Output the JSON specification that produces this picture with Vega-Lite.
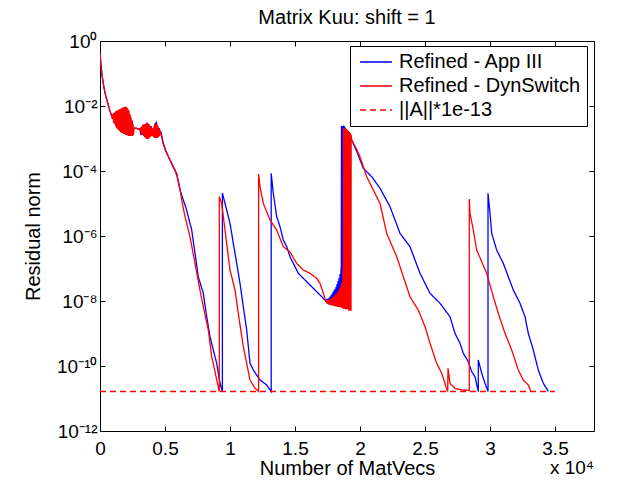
{
"$schema": "https://vega.github.io/schema/vega-lite/v6.json",
"width": 494, "height": 390,
"autosize": {"type": "none"},
"padding": {"left": 100, "top": 41, "right": 49, "bottom": 50},
"background": "white",
"config": {
  "font": "Liberation Sans",
  "view": {"stroke": "black", "strokeWidth": 1},
  "axis": {"grid": false, "domain": false, "tickColor": "black", "labelColor": "black", "titleColor": "black", "labelFont": "Liberation Sans", "titleFont": "Liberation Sans", "labelFontSize": 19, "titleFontSize": 20, "titleFontWeight": "normal", "tickSize": -5, "labelFlush": false, "labelOverlap": false}
},
"title": {"text": "Matrix Kuu: shift = 1", "fontSize": 20, "fontWeight": "normal", "font": "Liberation Sans", "color": "black", "offset": 4},
"datasets": {
"blue": [
{"s":"Refined - App III","x":0,"y":0.42},{"s":"Refined - App III","x":77,"y":0.182},{"s":"Refined - App III","x":154,"y":0.09},{"s":"Refined - App III","x":308,"y":0.0358},{"s":"Refined - App III","x":462,"y":0.0189},{"s":"Refined - App III","x":615,"y":0.0115},{"s":"Refined - App III","x":769,"y":0.00702},{"s":"Refined - App III","x":923,"y":0.00459},
{"s":"Refined - App III","x":1000,"y":0.00528},{"s":"Refined - App III","x":1077,"y":0.003},{"s":"Refined - App III","x":1231,"y":0.00654},{"s":"Refined - App III","x":1385,"y":0.00196},{"s":"Refined - App III","x":1538,"y":0.0078},{"s":"Refined - App III","x":1692,"y":0.00158},{"s":"Refined - App III","x":1846,"y":0.00868},{"s":"Refined - App III","x":2000,"y":0.00137},{"s":"Refined - App III","x":2154,"y":0.00753},{"s":"Refined - App III","x":2308,"y":0.00128},{"s":"Refined - App III","x":2462,"y":0.00345},{"s":"Refined - App III","x":2538,"y":0.00183},{"s":"Refined - App III","x":2615,"y":0.0021},{"s":"Refined - App III","x":2769,"y":0.0021},{"s":"Refined - App III","x":2923,"y":0.00196},
{"s":"Refined - App III","x":3077,"y":0.00196},{"s":"Refined - App III","x":3154,"y":0.00128},{"s":"Refined - App III","x":3308,"y":0.00269},{"s":"Refined - App III","x":3462,"y":0.00111},{"s":"Refined - App III","x":3615,"y":0.00311},{"s":"Refined - App III","x":3769,"y":0.00111},{"s":"Refined - App III","x":3923,"y":0.00242},{"s":"Refined - App III","x":4077,"y":0.00119},{"s":"Refined - App III","x":4231,"y":0.00279},{"s":"Refined - App III","x":4346,"y":0.00311},{"s":"Refined - App III","x":4423,"y":0.00128},{"s":"Refined - App III","x":4538,"y":0.0021},{"s":"Refined - App III","x":4615,"y":0.00158},
{"s":"Refined - App III","x":4692,"y":0.00158},{"s":"Refined - App III","x":4869,"y":0.000712},{"s":"Refined - App III","x":5077,"y":0.000412},{"s":"Refined - App III","x":5385,"y":0.000218},{"s":"Refined - App III","x":5615,"y":0.000143},{"s":"Refined - App III","x":5769,"y":0.000107},{"s":"Refined - App III","x":5923,"y":7.02e-5},{"s":"Refined - App III","x":6154,"y":2.6e-5},{"s":"Refined - App III","x":6408,"y":1.28e-5},{"s":"Refined - App III","x":6615,"y":7.27e-6},{"s":"Refined - App III","x":6792,"y":3.93e-6},{"s":"Refined - App III","x":7054,"y":1.53e-6},{"s":"Refined - App III","x":7308,"y":2.94e-7},{"s":"Refined - App III","x":7561,"y":5.6e-8},{"s":"Refined - App III","x":7946,"y":1.73e-8},{"s":"Refined - App III","x":8208,"y":3.29e-9},{"s":"Refined - App III","x":8461,"y":7.98e-10},{"s":"Refined - App III","x":8715,"y":3.11e-10},{"s":"Refined - App III","x":8977,"y":1.21e-10},{"s":"Refined - App III","x":9231,"y":2.94e-11},{"s":"Refined - App III","x":9415,"y":1.64e-11},{"s":"Refined - App III","x":9415,"y":2.1e-5},
{"s":"Refined - App III","x":9485,"y":1.62e-5},{"s":"Refined - App III","x":9746,"y":6.31e-6},{"s":"Refined - App III","x":10000,"y":2.46e-6},{"s":"Refined - App III","x":10254,"y":5.96e-7},{"s":"Refined - App III","x":10515,"y":1.44e-7},{"s":"Refined - App III","x":10769,"y":3.51e-8},{"s":"Refined - App III","x":11023,"y":6.68e-9},{"s":"Refined - App III","x":11284,"y":1.28e-9},{"s":"Refined - App III","x":11538,"y":1.21e-10},{"s":"Refined - App III","x":11792,"y":7.53e-11},{"s":"Refined - App III","x":12308,"y":3.71e-11},{"s":"Refined - App III","x":12823,"y":2.6e-11},{"s":"Refined - App III","x":13169,"y":1.64e-11},{"s":"Refined - App III","x":13169,"y":8.49e-5},
{"s":"Refined - App III","x":13331,"y":2.06e-5},{"s":"Refined - App III","x":13592,"y":3.93e-6},{"s":"Refined - App III","x":13846,"y":1.93e-6},{"s":"Refined - App III","x":14100,"y":7.53e-7},{"s":"Refined - App III","x":14362,"y":4.69e-7},{"s":"Refined - App III","x":14615,"y":2.31e-7},{"s":"Refined - App III","x":14869,"y":1.44e-7},{"s":"Refined - App III","x":15254,"y":7.12e-8},{"s":"Refined - App III","x":15900,"y":3.93e-8},{"s":"Refined - App III","x":16408,"y":2.46e-8},{"s":"Refined - App III","x":16923,"y":1.53e-8},{"s":"Refined - App III","x":17308,"y":1.07e-8},
{"s":"Refined - App III","x":17385,"y":1.11e-8},{"s":"Refined - App III","x":17423,"y":9.31e-9},{"s":"Refined - App III","x":17461,"y":1.15e-8},{"s":"Refined - App III","x":17500,"y":8.99e-9},{"s":"Refined - App III","x":17538,"y":1.19e-8},{"s":"Refined - App III","x":17577,"y":8.68e-9},{"s":"Refined - App III","x":17615,"y":1.24e-8},{"s":"Refined - App III","x":17654,"y":8.68e-9},{"s":"Refined - App III","x":17692,"y":1.36e-8},{"s":"Refined - App III","x":17731,"y":8.68e-9},{"s":"Refined - App III","x":17769,"y":1.48e-8},{"s":"Refined - App III","x":17808,"y":8.68e-9},{"s":"Refined - App III","x":17846,"y":1.64e-8},{"s":"Refined - App III","x":17885,"y":8.68e-9},{"s":"Refined - App III","x":17923,"y":1.89e-8},{"s":"Refined - App III","x":17962,"y":8.68e-9},{"s":"Refined - App III","x":18000,"y":2.1e-8},{"s":"Refined - App III","x":18038,"y":8.68e-9},{"s":"Refined - App III","x":18077,"y":2.34e-8},{"s":"Refined - App III","x":18115,"y":8.68e-9},{"s":"Refined - App III","x":18154,"y":2.7e-8},{"s":"Refined - App III","x":18192,"y":8.68e-9},{"s":"Refined - App III","x":18231,"y":3.33e-8},{"s":"Refined - App III","x":18269,"y":8.68e-9},{"s":"Refined - App III","x":18308,"y":4.12e-8},{"s":"Refined - App III","x":18346,"y":8.68e-9},{"s":"Refined - App III","x":18385,"y":5.1e-8},{"s":"Refined - App III","x":18423,"y":8.68e-9},{"s":"Refined - App III","x":18462,"y":6.77e-8},{"s":"Refined - App III","x":18500,"y":8.68e-9},{"s":"Refined - App III","x":18538,"y":1.04e-7},{"s":"Refined - App III","x":18558,"y":8.68e-9},{"s":"Refined - App III","x":18577,"y":0.00243},{"s":"Refined - App III","x":18615,"y":8.68e-9},{"s":"Refined - App III","x":18654,"y":0.00243},{"s":"Refined - App III","x":18692,"y":8.68e-9},{"s":"Refined - App III","x":18731,"y":0.00243},{"s":"Refined - App III","x":18769,"y":8.68e-9},{"s":"Refined - App III","x":18792,"y":0.00226},
{"s":"Refined - App III","x":19362,"y":0.000899},{"s":"Refined - App III","x":19769,"y":0.000385},{"s":"Refined - App III","x":20254,"y":0.000121},{"s":"Refined - App III","x":20900,"y":6.68e-5},{"s":"Refined - App III","x":21538,"y":2.94e-5},{"s":"Refined - App III","x":22308,"y":7.98e-6},{"s":"Refined - App III","x":23077,"y":1.21e-6},{"s":"Refined - App III","x":23846,"y":4.69e-7},{"s":"Refined - App III","x":24615,"y":7.12e-8},{"s":"Refined - App III","x":25385,"y":1.73e-8},{"s":"Refined - App III","x":26154,"y":8.49e-9},{"s":"Refined - App III","x":26923,"y":3.29e-9},{"s":"Refined - App III","x":27308,"y":1.01e-9},{"s":"Refined - App III","x":27692,"y":4.99e-10},{"s":"Refined - App III","x":27946,"y":2.46e-10},{"s":"Refined - App III","x":28331,"y":1.36e-10},{"s":"Refined - App III","x":28592,"y":6.68e-11},{"s":"Refined - App III","x":28846,"y":4.69e-11},{"s":"Refined - App III","x":29100,"y":1.64e-11},{"s":"Refined - App III","x":29100,"y":1.53e-10},{"s":"Refined - App III","x":29362,"y":5.96e-11},{"s":"Refined - App III","x":29615,"y":2.94e-11},{"s":"Refined - App III","x":29846,"y":1.64e-11},{"s":"Refined - App III","x":29846,"y":2.06e-5},
{"s":"Refined - App III","x":30000,"y":4.99e-6},{"s":"Refined - App III","x":30131,"y":1.21e-6},{"s":"Refined - App III","x":30515,"y":3.71e-7},{"s":"Refined - App III","x":31023,"y":1.44e-7},{"s":"Refined - App III","x":31408,"y":5.6e-8},{"s":"Refined - App III","x":31792,"y":2.18e-8},{"s":"Refined - App III","x":32308,"y":8.49e-9},{"s":"Refined - App III","x":32692,"y":3.29e-9},{"s":"Refined - App III","x":32946,"y":1.01e-9},{"s":"Refined - App III","x":33331,"y":3.11e-10},{"s":"Refined - App III","x":33715,"y":7.53e-11},{"s":"Refined - App III","x":34100,"y":2.94e-11},{"s":"Refined - App III","x":34485,"y":1.64e-11}
],
"red": [
{"s":"Refined - DynSwitch","x":0,"y":0.42},{"s":"Refined - DynSwitch","x":77,"y":0.182},{"s":"Refined - DynSwitch","x":154,"y":0.09},{"s":"Refined - DynSwitch","x":308,"y":0.0358},{"s":"Refined - DynSwitch","x":462,"y":0.0189},{"s":"Refined - DynSwitch","x":615,"y":0.0115},{"s":"Refined - DynSwitch","x":769,"y":0.00702},{"s":"Refined - DynSwitch","x":923,"y":0.00459},
{"s":"Refined - DynSwitch","x":923,"y":0.00492},{"s":"Refined - DynSwitch","x":961,"y":0.00398},{"s":"Refined - DynSwitch","x":1000,"y":0.00567},{"s":"Refined - DynSwitch","x":1038,"y":0.00322},{"s":"Refined - DynSwitch","x":1077,"y":0.00609},{"s":"Refined - DynSwitch","x":1115,"y":0.00279},{"s":"Refined - DynSwitch","x":1154,"y":0.00654},{"s":"Refined - DynSwitch","x":1192,"y":0.00242},{"s":"Refined - DynSwitch","x":1231,"y":0.00702},{"s":"Refined - DynSwitch","x":1269,"y":0.0021},{"s":"Refined - DynSwitch","x":1308,"y":0.00727},{"s":"Refined - DynSwitch","x":1346,"y":0.00196},{"s":"Refined - DynSwitch","x":1385,"y":0.00753},{"s":"Refined - DynSwitch","x":1423,"y":0.00183},{"s":"Refined - DynSwitch","x":1462,"y":0.0078},{"s":"Refined - DynSwitch","x":1500,"y":0.0017},{"s":"Refined - DynSwitch","x":1538,"y":0.00809},{"s":"Refined - DynSwitch","x":1577,"y":0.00158},{"s":"Refined - DynSwitch","x":1615,"y":0.00838},{"s":"Refined - DynSwitch","x":1654,"y":0.00148},{"s":"Refined - DynSwitch","x":1692,"y":0.00868},{"s":"Refined - DynSwitch","x":1731,"y":0.00148},{"s":"Refined - DynSwitch","x":1769,"y":0.00899},{"s":"Refined - DynSwitch","x":1808,"y":0.00137},{"s":"Refined - DynSwitch","x":1846,"y":0.00932},{"s":"Refined - DynSwitch","x":1885,"y":0.00137},{"s":"Refined - DynSwitch","x":1923,"y":0.00952},{"s":"Refined - DynSwitch","x":1962,"y":0.00128},{"s":"Refined - DynSwitch","x":2000,"y":0.00952},{"s":"Refined - DynSwitch","x":2038,"y":0.00128},{"s":"Refined - DynSwitch","x":2077,"y":0.00899},{"s":"Refined - DynSwitch","x":2115,"y":0.00124},{"s":"Refined - DynSwitch","x":2154,"y":0.00809},{"s":"Refined - DynSwitch","x":2192,"y":0.00119},{"s":"Refined - DynSwitch","x":2231,"y":0.00702},{"s":"Refined - DynSwitch","x":2269,"y":0.00119},{"s":"Refined - DynSwitch","x":2308,"y":0.00567},{"s":"Refined - DynSwitch","x":2346,"y":0.00119},{"s":"Refined - DynSwitch","x":2385,"y":0.00459},{"s":"Refined - DynSwitch","x":2423,"y":0.00119},{"s":"Refined - DynSwitch","x":2462,"y":0.00371},{"s":"Refined - DynSwitch","x":2500,"y":0.00119},{"s":"Refined - DynSwitch","x":2538,"y":0.00279},{"s":"Refined - DynSwitch","x":2577,"y":0.00128},
{"s":"Refined - DynSwitch","x":2615,"y":0.0021},{"s":"Refined - DynSwitch","x":2769,"y":0.0021},{"s":"Refined - DynSwitch","x":2923,"y":0.00196},
{"s":"Refined - DynSwitch","x":3077,"y":0.00196},{"s":"Refined - DynSwitch","x":3115,"y":0.00158},{"s":"Refined - DynSwitch","x":3154,"y":0.00226},{"s":"Refined - DynSwitch","x":3192,"y":0.00137},{"s":"Refined - DynSwitch","x":3231,"y":0.00242},{"s":"Refined - DynSwitch","x":3269,"y":0.00128},{"s":"Refined - DynSwitch","x":3308,"y":0.0026},{"s":"Refined - DynSwitch","x":3346,"y":0.00119},{"s":"Refined - DynSwitch","x":3385,"y":0.00269},{"s":"Refined - DynSwitch","x":3423,"y":0.00111},{"s":"Refined - DynSwitch","x":3462,"y":0.00279},{"s":"Refined - DynSwitch","x":3500,"y":0.001035},{"s":"Refined - DynSwitch","x":3538,"y":0.00289},{"s":"Refined - DynSwitch","x":3577,"y":0.000965},{"s":"Refined - DynSwitch","x":3615,"y":0.00294},{"s":"Refined - DynSwitch","x":3654,"y":0.000965},{"s":"Refined - DynSwitch","x":3692,"y":0.00294},{"s":"Refined - DynSwitch","x":3731,"y":0.000965},{"s":"Refined - DynSwitch","x":3769,"y":0.00279},{"s":"Refined - DynSwitch","x":3808,"y":0.001035},{"s":"Refined - DynSwitch","x":3846,"y":0.00251},{"s":"Refined - DynSwitch","x":3885,"y":0.00111},{"s":"Refined - DynSwitch","x":3923,"y":0.00226},{"s":"Refined - DynSwitch","x":3962,"y":0.00119},{"s":"Refined - DynSwitch","x":4000,"y":0.00203},{"s":"Refined - DynSwitch","x":4038,"y":0.00119},{"s":"Refined - DynSwitch","x":4077,"y":0.0021},{"s":"Refined - DynSwitch","x":4115,"y":0.00111},{"s":"Refined - DynSwitch","x":4154,"y":0.00242},{"s":"Refined - DynSwitch","x":4192,"y":0.001035},{"s":"Refined - DynSwitch","x":4231,"y":0.00279},{"s":"Refined - DynSwitch","x":4269,"y":0.001035},{"s":"Refined - DynSwitch","x":4308,"y":0.00294},{"s":"Refined - DynSwitch","x":4346,"y":0.001035},{"s":"Refined - DynSwitch","x":4385,"y":0.00279},{"s":"Refined - DynSwitch","x":4423,"y":0.001035},{"s":"Refined - DynSwitch","x":4462,"y":0.00242},{"s":"Refined - DynSwitch","x":4500,"y":0.00111},{"s":"Refined - DynSwitch","x":4538,"y":0.0021},{"s":"Refined - DynSwitch","x":4577,"y":0.00119},{"s":"Refined - DynSwitch","x":4615,"y":0.00183},{"s":"Refined - DynSwitch","x":4654,"y":0.00137},
{"s":"Refined - DynSwitch","x":4692,"y":0.00137},{"s":"Refined - DynSwitch","x":4846,"y":0.000727},{"s":"Refined - DynSwitch","x":5077,"y":0.000385},{"s":"Refined - DynSwitch","x":5385,"y":0.000218},{"s":"Refined - DynSwitch","x":5615,"y":0.000133},{"s":"Refined - DynSwitch","x":5900,"y":8.49e-5},{"s":"Refined - DynSwitch","x":6154,"y":2.79e-5},{"s":"Refined - DynSwitch","x":6285,"y":1.28e-5},{"s":"Refined - DynSwitch","x":6538,"y":3.93e-6},{"s":"Refined - DynSwitch","x":6923,"y":9.51e-7},{"s":"Refined - DynSwitch","x":7308,"y":1.44e-7},{"s":"Refined - DynSwitch","x":7692,"y":2.18e-8},{"s":"Refined - DynSwitch","x":7946,"y":6.68e-9},{"s":"Refined - DynSwitch","x":8331,"y":1.28e-9},{"s":"Refined - DynSwitch","x":8592,"y":1.93e-10},{"s":"Refined - DynSwitch","x":8769,"y":9.51e-11},{"s":"Refined - DynSwitch","x":8977,"y":3.71e-11},{"s":"Refined - DynSwitch","x":9177,"y":1.64e-11},{"s":"Refined - DynSwitch","x":9177,"y":1.62e-5},
{"s":"Refined - DynSwitch","x":9361,"y":1.01e-5},{"s":"Refined - DynSwitch","x":9615,"y":1.53e-6},{"s":"Refined - DynSwitch","x":10000,"y":8.99e-8},{"s":"Refined - DynSwitch","x":10385,"y":2.18e-8},{"s":"Refined - DynSwitch","x":10638,"y":4.19e-9},{"s":"Refined - DynSwitch","x":11023,"y":3.93e-10},{"s":"Refined - DynSwitch","x":11284,"y":1.21e-10},{"s":"Refined - DynSwitch","x":11538,"y":3.71e-11},{"s":"Refined - DynSwitch","x":11923,"y":2.06e-11},{"s":"Refined - DynSwitch","x":12200,"y":1.64e-11},{"s":"Refined - DynSwitch","x":12200,"y":8.09e-5},
{"s":"Refined - DynSwitch","x":12308,"y":3.29e-5},{"s":"Refined - DynSwitch","x":12561,"y":1.01e-5},{"s":"Refined - DynSwitch","x":13077,"y":3.11e-6},{"s":"Refined - DynSwitch","x":13592,"y":1.53e-6},{"s":"Refined - DynSwitch","x":14100,"y":4.69e-7},{"s":"Refined - DynSwitch","x":14615,"y":3.22e-7},{"s":"Refined - DynSwitch","x":15131,"y":1.44e-7},{"s":"Refined - DynSwitch","x":15638,"y":8.99e-8},{"s":"Refined - DynSwitch","x":16154,"y":7.12e-8},{"s":"Refined - DynSwitch","x":16669,"y":4.99e-8},{"s":"Refined - DynSwitch","x":16923,"y":3.51e-8},{"s":"Refined - DynSwitch","x":17177,"y":1.73e-8},{"s":"Refined - DynSwitch","x":17385,"y":9.31e-9},
{"s":"Refined - DynSwitch","x":17385,"y":1.0e-8},{"s":"Refined - DynSwitch","x":17423,"y":8.68e-9},{"s":"Refined - DynSwitch","x":17461,"y":1.07e-8},{"s":"Refined - DynSwitch","x":17500,"y":8.09e-9},{"s":"Refined - DynSwitch","x":17538,"y":1.07e-8},{"s":"Refined - DynSwitch","x":17577,"y":7.8e-9},{"s":"Refined - DynSwitch","x":17615,"y":1.11e-8},{"s":"Refined - DynSwitch","x":17654,"y":7.53e-9},{"s":"Refined - DynSwitch","x":17692,"y":1.15e-8},{"s":"Refined - DynSwitch","x":17731,"y":7.53e-9},{"s":"Refined - DynSwitch","x":17769,"y":1.19e-8},{"s":"Refined - DynSwitch","x":17808,"y":7.27e-9},{"s":"Refined - DynSwitch","x":17846,"y":1.24e-8},{"s":"Refined - DynSwitch","x":17885,"y":7.27e-9},{"s":"Refined - DynSwitch","x":17923,"y":1.33e-8},{"s":"Refined - DynSwitch","x":17962,"y":7.02e-9},{"s":"Refined - DynSwitch","x":18000,"y":1.43e-8},{"s":"Refined - DynSwitch","x":18038,"y":7.02e-9},{"s":"Refined - DynSwitch","x":18077,"y":1.53e-8},{"s":"Refined - DynSwitch","x":18115,"y":6.77e-9},{"s":"Refined - DynSwitch","x":18154,"y":1.64e-8},{"s":"Refined - DynSwitch","x":18192,"y":6.77e-9},{"s":"Refined - DynSwitch","x":18231,"y":1.76e-8},{"s":"Refined - DynSwitch","x":18269,"y":6.54e-9},{"s":"Refined - DynSwitch","x":18308,"y":1.96e-8},{"s":"Refined - DynSwitch","x":18346,"y":6.54e-9},{"s":"Refined - DynSwitch","x":18385,"y":2.18e-8},{"s":"Refined - DynSwitch","x":18423,"y":6.54e-9},{"s":"Refined - DynSwitch","x":18462,"y":2.51e-8},{"s":"Refined - DynSwitch","x":18500,"y":6.31e-9},{"s":"Refined - DynSwitch","x":18538,"y":2.9e-8},{"s":"Refined - DynSwitch","x":18577,"y":6.31e-9},{"s":"Refined - DynSwitch","x":18615,"y":3.58e-8},{"s":"Refined - DynSwitch","x":18654,"y":6.09e-9},{"s":"Refined - DynSwitch","x":18692,"y":8.99e-8},{"s":"Refined - DynSwitch","x":18712,"y":5.88e-9},{"s":"Refined - DynSwitch","x":18731,"y":0.0021},{"s":"Refined - DynSwitch","x":18769,"y":5.67e-9},{"s":"Refined - DynSwitch","x":18808,"y":0.0021},{"s":"Refined - DynSwitch","x":18846,"y":5.67e-9},{"s":"Refined - DynSwitch","x":18885,"y":0.00203},{"s":"Refined - DynSwitch","x":18923,"y":5.47e-9},{"s":"Refined - DynSwitch","x":18962,"y":0.00196},{"s":"Refined - DynSwitch","x":19000,"y":5.67e-9},{"s":"Refined - DynSwitch","x":19038,"y":0.00183},{"s":"Refined - DynSwitch","x":19077,"y":5.47e-9},{"s":"Refined - DynSwitch","x":19115,"y":0.0017},{"s":"Refined - DynSwitch","x":19154,"y":4.92e-9},{"s":"Refined - DynSwitch","x":19192,"y":0.00158},{"s":"Refined - DynSwitch","x":19231,"y":5.28e-9},{"s":"Refined - DynSwitch","x":19269,"y":0.00148},{"s":"Refined - DynSwitch","x":19308,"y":4.92e-9},{"s":"Refined - DynSwitch","x":19320,"y":0.00128},
{"s":"Refined - DynSwitch","x":19362,"y":0.000899},{"s":"Refined - DynSwitch","x":19692,"y":0.00051},{"s":"Refined - DynSwitch","x":20000,"y":0.000275},{"s":"Refined - DynSwitch","x":20515,"y":6.68e-5},{"s":"Refined - DynSwitch","x":21023,"y":2.6e-5},{"s":"Refined - DynSwitch","x":21538,"y":1.01e-5},{"s":"Refined - DynSwitch","x":22053,"y":1.21e-6},{"s":"Refined - DynSwitch","x":22823,"y":2.31e-7},{"s":"Refined - DynSwitch","x":23331,"y":5.6e-8},{"s":"Refined - DynSwitch","x":23846,"y":1.36e-8},{"s":"Refined - DynSwitch","x":24485,"y":5.28e-9},{"s":"Refined - DynSwitch","x":25000,"y":1.62e-9},{"s":"Refined - DynSwitch","x":25385,"y":4.99e-10},{"s":"Refined - DynSwitch","x":25900,"y":1.21e-10},{"s":"Refined - DynSwitch","x":26284,"y":5.96e-11},{"s":"Refined - DynSwitch","x":26615,"y":2.31e-11},{"s":"Refined - DynSwitch","x":26745,"y":1.64e-11},{"s":"Refined - DynSwitch","x":26769,"y":8.49e-11},{"s":"Refined - DynSwitch","x":26923,"y":2.94e-11},{"s":"Refined - DynSwitch","x":27308,"y":2.06e-11},{"s":"Refined - DynSwitch","x":27846,"y":1.83e-11},{"s":"Refined - DynSwitch","x":28407,"y":1.76e-11},{"s":"Refined - DynSwitch","x":28407,"y":1.38e-5},
{"s":"Refined - DynSwitch","x":28462,"y":4.99e-6},{"s":"Refined - DynSwitch","x":28715,"y":1.53e-6},{"s":"Refined - DynSwitch","x":28977,"y":3.71e-7},{"s":"Refined - DynSwitch","x":29362,"y":1.62e-7},{"s":"Refined - DynSwitch","x":29746,"y":7.12e-8},{"s":"Refined - DynSwitch","x":30254,"y":1.36e-8},{"s":"Refined - DynSwitch","x":30638,"y":4.19e-9},{"s":"Refined - DynSwitch","x":31154,"y":1.01e-9},{"s":"Refined - DynSwitch","x":31669,"y":3.11e-10},{"s":"Refined - DynSwitch","x":32177,"y":7.53e-11},{"s":"Refined - DynSwitch","x":32561,"y":3.71e-11},{"s":"Refined - DynSwitch","x":32946,"y":2.6e-11},{"s":"Refined - DynSwitch","x":33154,"y":1.64e-11}
],
"lim": [
{"s":"||A||*1e-13","x":0,"y":1.64e-11},{"s":"||A||*1e-13","x":35000,"y":1.64e-11}
]
},
"layer": [
{
  "data": {"name": "blue"},
  "mark": {"type": "line", "strokeWidth": 1.3, "clip": true},
  "encoding": {
    "x": {"field": "x", "type": "quantitative", "scale": {"domain": [0, 38000], "nice": false, "zero": false},
          "axis": {"orient": "bottom", "values": [0,5000,10000,15000,20000,25000,30000,35000], "labelExpr": "datum.value/10000 + ''", "title": "Number of MatVecs", "labelPadding": 13, "titlePadding": 0}},
    "y": {"field": "y", "type": "quantitative", "scale": {"type": "log", "domain": [1e-12, 1], "nice": false},
          "axis": {"orient": "left", "values": [1e-12,1e-10,1e-8,1e-6,1e-4,1e-2,1], "labelExpr": "['10⁻¹²','','10⁻¹⁰','','10⁻⁸','','10⁻⁶','','10⁻⁴','','10⁻²','','10⁰'][round(log(datum.value)/LN10)+12]", "title": "Residual norm", "labelPadding": 8, "titlePadding": 13}},
    "color": {"field": "s", "type": "nominal",
              "scale": {"domain": ["Refined - App III", "Refined - DynSwitch", "||A||*1e-13"], "range": ["#0000ff", "#ff0000", "#ff0000"]},
              "legend": {"orient": "none", "legendX": 250, "legendY": 5, "title": null, "strokeColor": "black", "fillColor": "white", "padding": 6, "symbolType": "M-2,0L2,0", "symbolSize": 256, "symbolOffset": 10, "labelOffset": 13, "symbolStrokeWidth": 1.3, "labelFontSize": 20, "labelFont": "Liberation Sans", "labelColor": "black", "rowPadding": 4, "labelLimit": 400}},
    "strokeDash": {"field": "s", "type": "nominal",
              "scale": {"domain": ["Refined - App III", "Refined - DynSwitch", "||A||*1e-13"], "range": [[1,0],[1,0],[6,4]]},
              "legend": {"orient": "none", "legendX": 250, "legendY": 5, "title": null, "strokeColor": "black", "fillColor": "white", "padding": 6, "symbolType": "M-2,0L2,0", "symbolSize": 256, "symbolOffset": 10, "labelOffset": 13, "symbolStrokeWidth": 1.3, "labelFontSize": 20, "labelFont": "Liberation Sans", "labelColor": "black", "rowPadding": 4, "labelLimit": 400}},
    "order": {"value": null}
  }
},
{
  "data": {"name": "red"},
  "mark": {"type": "line", "strokeWidth": 1.3, "clip": true},
  "encoding": {
    "x": {"field": "x", "type": "quantitative", "scale": {"domain": [0, 38000], "nice": false, "zero": false},
          "axis": {"orient": "top", "values": [0,5000,10000,15000,20000,25000,30000,35000], "labels": false, "title": null}},
    "y": {"field": "y", "type": "quantitative", "scale": {"type": "log", "domain": [1e-12, 1], "nice": false},
          "axis": {"orient": "right", "values": [1e-12,1e-10,1e-8,1e-6,1e-4,1e-2,1], "labels": false, "title": null}},
    "color": {"field": "s", "type": "nominal", "scale": {"domain": ["Refined - App III", "Refined - DynSwitch", "||A||*1e-13"], "range": ["#0000ff", "#ff0000", "#ff0000"]}},
    "strokeDash": {"field": "s", "type": "nominal", "scale": {"domain": ["Refined - App III", "Refined - DynSwitch", "||A||*1e-13"], "range": [[1,0],[1,0],[6,4]]}},
    "order": {"value": null}
  }
},
{
  "data": {"name": "lim"},
  "mark": {"type": "line", "strokeWidth": 1.6, "stroke": "#ff0000", "strokeDash": [6, 4], "clip": true},
  "encoding": {
    "x": {"field": "x", "type": "quantitative", "scale": {"domain": [0, 38000], "nice": false, "zero": false}, "axis": null},
    "y": {"field": "y", "type": "quantitative", "scale": {"type": "log", "domain": [1e-12, 1], "nice": false}, "axis": null},
    "order": {"value": null}
  }
},
{
  "data": {"values": [{"t": "x 10⁴"}]},
  "mark": {"type": "text", "align": "right", "baseline": "top", "dy": 28, "fontSize": 19, "font": "Liberation Sans", "color": "black"},
  "encoding": {
    "x": {"datum": 38000, "type": "quantitative", "axis": null},
    "y": {"datum": 1e-12, "type": "quantitative", "axis": null},
    "text": {"field": "t"}
  }
}
],
"resolve": {"axis": {"x": "independent", "y": "independent"}}
}
